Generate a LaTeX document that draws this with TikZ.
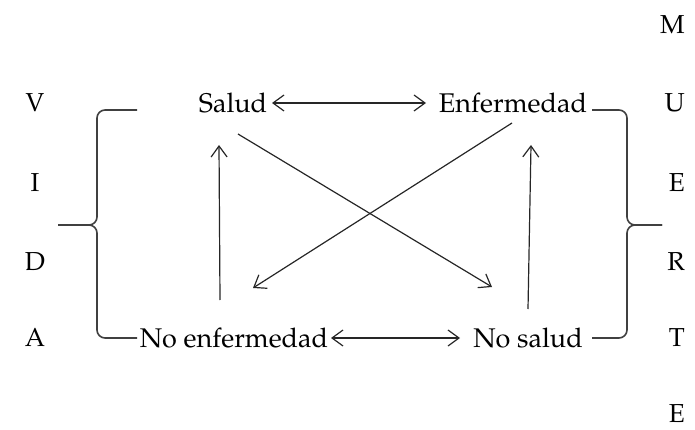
\documentclass[tikz,border=0pt]{standalone}
\usepackage[T1]{fontenc}
\usepackage{mathpazo}
\usetikzlibrary{arrows.meta,calc}
\begin{document}
\begin{tikzpicture}[x=1pt,y=-1pt,
  lbl/.style={inner sep=0pt,font=\fontsize{27}{32}\selectfont},
  letter/.style={inner sep=0pt,font=\fontsize{26}{30}\selectfont},
  link/.style={line width=1.2pt,draw=black!85},
  >={Straight Barb[length=11pt,width=16pt,line width=1.2pt]},
  brace/.style={line width=1.6pt,draw=black!75,rounded corners=8pt}]
\useasboundingbox (0,0) rectangle (695,430);

% states
\node[lbl] (salud) at (233,103) {Salud};
\node[lbl] (enf)   at (513,103) {Enfermedad};
\node[lbl] (noenf) at (234,338) {No enfermedad};
\node[lbl] (nosal) at (528,338) {No salud};

% side words
\foreach \c/\y [count=\i] in {V/103,I/183,D/262,A/338}
  \node[letter] (v\i) at (35,\y) {\c};
\foreach \c/\y [count=\i] in {M/25,U/103,E/183,R/262,T/338,E/414}
  \node[letter,anchor=east] (m\i) at (685,\y) {\c};

% arrows between states
\draw[link,<->] ($(salud)+(39,0)$) -- ($(enf)+(-87,0)$);
\draw[link,<->] ($(noenf)+(97,0)$) -- ($(nosal)+(-68,0)$);
\draw[link,->] ($(noenf)+(-14,-38)$) -- ($(salud)+(-14,42)$);
\draw[link,->] ($(nosal)+(0,-29)$) -- ($(enf)+(18,42)$);
\draw[link,->] ($(salud)+(5,31)$) -- ($(nosal)+(-36,-51)$);
\draw[link,->] ($(enf)+(-1,20)$) -- ($(noenf)+(19,-50)$);

% braces
\coordinate (ltip) at (58,225);
\coordinate (rtip) at (662,225);
\draw[brace] ($(salud)+(-96,7)$) -| (97,225) -- (ltip);
\draw[brace] (ltip) -- (97,225) |- ($(noenf)+(-97,0)$);
\draw[brace] ($(enf)+(79,7)$) -| (627,225) -- (rtip);
\draw[brace] (rtip) -- (627,225) |- ($(nosal)+(64,0)$);
\end{tikzpicture}
\end{document}
